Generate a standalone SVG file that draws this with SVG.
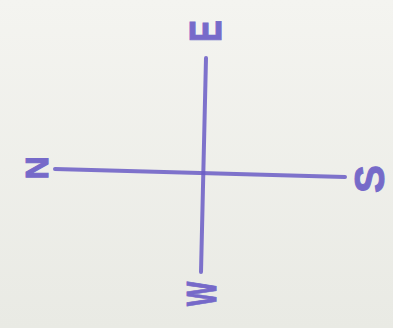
<svg xmlns="http://www.w3.org/2000/svg" width="393" height="328" viewBox="0 0 393 328">
<defs>
<style>
.lbl{font-family:"Liberation Sans",Arial,sans-serif;font-weight:bold;fill:#6a5cc6;stroke:#6a5cc6;stroke-width:1;text-anchor:middle;opacity:0.9}
.ln{stroke:#6a5cc6;stroke-width:4;stroke-linecap:round;fill:none;opacity:0.85}
</style>
<linearGradient id="bg" x1="0" y1="0" x2="0" y2="1">
<stop offset="0" stop-color="#f4f4f0"/>
<stop offset="1" stop-color="#e9eae4"/>
</linearGradient>
</defs>
<rect width="393" height="328" fill="url(#bg)"/>
<g id="connectors">
<path class="ln" d="M206 58 L201 272"/>
<path class="ln" d="M55 169 L345 177"/>
</g>
<g id="E"><text class="lbl" font-size="44" transform="translate(205 31) rotate(-90) scale(0.75 1)" y="15.5">E</text></g>
<g id="N"><text class="lbl" font-size="32" transform="translate(36 168) rotate(-90)" y="11.5">N</text></g>
<g id="S"><text class="lbl" font-size="42" transform="translate(369 179) rotate(-90)" y="15">S</text></g>
<g id="W"><text class="lbl" font-size="42" transform="translate(201 294) rotate(-90) scale(0.62 1)" y="15">W</text></g>
</svg>
